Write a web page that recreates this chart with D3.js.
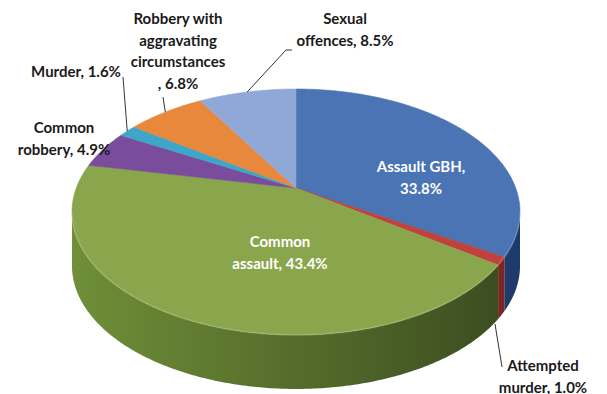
<!DOCTYPE html>
<html>
<head>
<meta charset="utf-8">
<script src="https://cdn.jsdelivr.net/npm/d3@7"></script>
<style>
  body { margin: 0; background: #ffffff; }
  svg { display: block; }
</style>
</head>
<body>
<svg id="chart" width="607" height="394"></svg>
<script>
// Share of offences by category (percent)
const categories = [
  "Assault GBH",
  "Attempted murder",
  "Common assault",
  "Common robbery",
  "Murder",
  "Robbery with aggravating circumstances",
  "Sexual offences"
];
const values = [33.8, 1.0, 43.4, 4.9, 1.6, 6.8, 8.5];

// Top-face colours and side-wall shading (left -> right)
const topColors   = ["#4a74b4", "#c0413d", "#8aa64c", "#7a4c9c", "#3ea6c8", "#e8883c", "#90a8d8"];
const sideLight   = ["#3a62a0", "#a83532", "#6f8f38", "#5f3a7c", "#2f88a6", "#c06a28", "#7088b8"];
const sideDark    = ["#1e3a6a", "#7a2523", "#3a4a1f", "#40275a", "#1d5a70", "#80461a", "#4a5f86"];

// How each label is broken into lines: "name" lines, then where ", value" goes
const labelWrap = [
  { lines: ["Assault GBH"], sep: "after" },
  { lines: ["Attempted", "murder"], sep: "inline" },
  { lines: ["Common", "assault"], sep: "inline" },
  { lines: ["Common", "robbery"], sep: "inline" },
  { lines: ["Murder"], sep: "inline" },
  { lines: ["Robbery with", "aggravating", "circumstances"], sep: "before" },
  { lines: ["Sexual", "offences"], sep: "inline" }
];

const svg = d3.select("#chart");
const W = 607, H = 394;

// Perspective projection of a tilted disc
const cx = 296, cy = 188;      // projected pie centre
const A = 219.7, B = 118.3;    // horizontal / vertical radii before perspective
const K = 0.195;               // perspective strength (back is farther away)
const DEPTH = 54;              // thickness of the pie wall

function rim(a) {
  const u = Math.sin(a), v = Math.cos(a), w = 1 + K * v;
  return [cx + A * u / w, cy - B * v / w];
}
function arcPoints(a0, a1) {
  const n = Math.max(2, Math.ceil((a1 - a0) / 0.01));
  return d3.range(n + 1).map(i => rim(a0 + (a1 - a0) * i / n));
}

const pie = d3.pie().sort(null).value(d => d).startAngle(0).endAngle(2 * Math.PI);
const arcs = pie(values);

const line = d3.line();
const fmt = d => d3.format(".1f")(d) + "%";

// Gradients for side walls
const defs = svg.append("defs");
arcs.forEach((d, i) => {
  const g = defs.append("linearGradient")
    .attr("id", "side" + i)
    .attr("gradientUnits", "userSpaceOnUse")
    .attr("x1", 72).attr("y1", 0).attr("x2", 520).attr("y2", 0);
  g.append("stop").attr("offset", "0%").attr("stop-color", sideLight[i]);
  g.append("stop").attr("offset", "100%").attr("stop-color", sideDark[i]);
});

// Side walls: only the front part of the rim (between the horizontal extremes) is visible
const sideMin = Math.acos(-K), sideMax = 2 * Math.PI - Math.acos(-K);
const sides = svg.append("g");
arcs.forEach((d, i) => {
  const a0 = Math.max(d.startAngle, sideMin), a1 = Math.min(d.endAngle, sideMax);
  if (a1 <= a0) return;
  const topPts = arcPoints(a0, a1);
  const botPts = topPts.map(p => [p[0], p[1] + DEPTH]).reverse();
  sides.append("path")
    .attr("d", line(topPts.concat(botPts)) + "Z")
    .attr("fill", `url(#side${i})`);
});

// Top faces
const tops = svg.append("g");
arcs.forEach((d, i) => {
  const pts = [[cx, cy]].concat(arcPoints(d.startAngle, d.endAngle));
  tops.append("path")
    .attr("d", line(pts) + "Z")
    .attr("fill", topColors[i])
    .attr("stroke", topColors[i])
    .attr("stroke-width", 0.6);
});

// Soft highlight along the front rim edge
tops.append("path")
  .attr("d", line(arcPoints(sideMin, sideMax)))
  .attr("fill", "none")
  .attr("stroke", "#ffffff")
  .attr("stroke-opacity", 0.12)
  .attr("stroke-width", 2);

// Labels
const labelLayout = [
  { x: 421, y: 172, color: "#ffffff", anchor: "middle" },
  { x: 543, y: 371, color: "#1a1a1a", anchor: "middle", leader: [[495, 324], [502, 367]] },
  { x: 280, y: 247, color: "#ffffff", anchor: "middle" },
  { x: 64,  y: 133, color: "#1a1a1a", anchor: "middle" },
  { x: 76,  y: 77,  color: "#1a1a1a", anchor: "middle", leader: "rim", to: [123, 77] },
  { x: 178, y: 24,  color: "#1a1a1a", anchor: "middle", leader: "rim", to: [163, 97] },
  { x: 345, y: 24,  color: "#1a1a1a", anchor: "middle", leader: "rim", to: [286, 50], tail: [292, 50] }
];
const LINE_H = 21.5;

const leaders = svg.append("g").attr("fill", "none").attr("stroke", "#333333").attr("stroke-width", 1);
const labels = svg.append("g")
  .attr("font-family", "Lato, 'Open Sans', sans-serif")
  .attr("font-weight", "bold")
  .attr("font-size", 15);

arcs.forEach((d, i) => {
  const L = labelLayout[i], wrap = labelWrap[i], pct = fmt(values[i]);
  let lines = wrap.lines.slice();
  if (wrap.sep === "inline") lines[lines.length - 1] += ", " + pct;
  else if (wrap.sep === "after") { lines[lines.length - 1] += ","; lines.push(pct); }
  else lines.push(", " + pct);

  const t = labels.append("text")
    .attr("text-anchor", L.anchor)
    .attr("fill", L.color);
  lines.forEach((s, k) => {
    t.append("tspan").attr("x", L.x).attr("y", L.y + k * LINE_H).text(s);
  });

  if (L.leader === "rim") {
    const p = rim((d.startAngle + d.endAngle) / 2);
    const pts = [p, L.to];
    if (L.tail) pts.push(L.tail);
    leaders.append("path").attr("d", line(pts));
  } else if (L.leader) {
    leaders.append("path").attr("d", line(L.leader));
  }
});
</script>
</body>
</html>
